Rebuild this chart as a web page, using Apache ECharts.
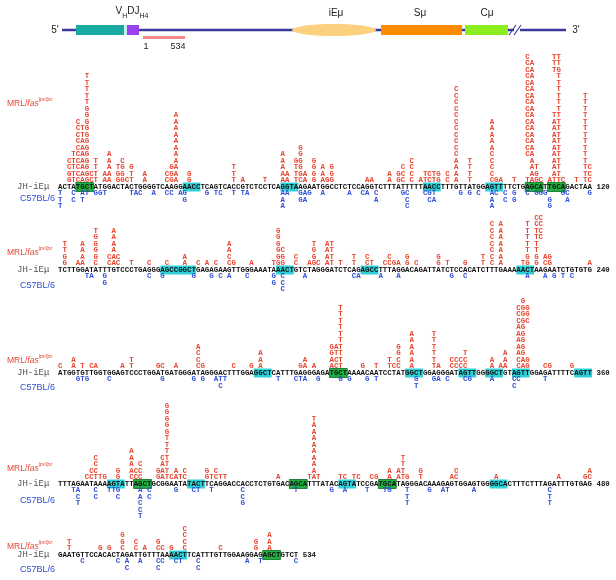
<!DOCTYPE html>
<html><head><meta charset="utf-8">
<script src="https://cdn.jsdelivr.net/npm/echarts/dist/echarts.min.js"></script>
<style>html,body{margin:0;padding:0;background:#fff}#c{width:616px;height:580px}</style>
</head><body><div id="c"></div>
<script>
// ---------- DATA ----------
const seq1 = "ACTATGCTATGGACTACTGGGGTCAAGGAACCTCAGTCACCGTCTCCTCAGGTAAGAATGGCCTCTCCAGGTCTTTATTTTTAACCTTTGTTATGGAGTTTTCTGAGCATTGCAGACTAA";
const seq2 = "TCTTGGATATTTGTCCCTGAGGGAGCCGGCTGAGAGAAGTTGGGAAATAAACTGTCTAGGGATCTCAGAGCCTTTAGGACAGATTATCTCCACATCTTTGAAAAACTAAGAATCTGTGTG";
const seq3 = "ATGGTGTTGGTGGAGTCCCTGGATGATGGGATAGGGACTTTGGAGGCTCATTTGAGGGAGATGCTAAAACAATCCTATGGCTGGAGGGATAGTTGGGGCTGTAGTTGGAGATTTTCAGTT";
const seq4 = "TTTAGAATAAAAGTATTAGCTGCGGAATATACTTCAGGACCACCTCTGTGACAGCATTTATACAGTATCCGATGCATAGGGACAAAGAGTGGAGTGGGGCACTTTCTTTAGATTTGTGAG";
const seq5 = "GAATGTTCCACACTAGATTGTTTAAAACTTCATTTGTTGGAAGGAGAGCTGTCT";
const endLabels = ["120", "240", "360", "480", "534"];

// MRL/lpr mutations: [level above sequence, start position (0-based), letters]
const mrl1 = [
 [1,2,"GTCAGCT"],[1,10,"AA"],[1,13,"GGCT"],[1,19,"A"],[1,24,"CGA"],[1,29,"G"],[1,39,"T"],[1,41,"A"],[1,46,"T"],[1,50,"AA"],[1,53,"TCA"],[1,57,"G"],[1,59,"AGG"],[1,69,"AA"],[1,74,"A"],[1,76,"GC"],[1,79,"C"],[1,81,"ATCTG"],[1,87,"C"],[1,89,"A"],[1,92,"T"],[1,97,"CGA"],[1,102,"T"],[1,105,"TAGC"],[1,110,"ATTC"],[1,116,"T"],[1,118,"TC"],
 [2,2,"GTCAGCT"],[2,10,"AA"],[2,13,"GG"],[2,16,"T"],[2,19,"A"],[2,24,"CGA"],[2,29,"G"],[2,39,"T"],[2,50,"AA"],[2,53,"TGA"],[2,57,"G"],[2,59,"A"],[2,61,"G"],[2,74,"A"],[2,76,"GC"],[2,79,"C"],[2,82,"TCTG"],[2,87,"C"],[2,89,"A"],[2,92,"T"],[2,97,"C"],[2,106,"AG"],[2,111,"AT"],[2,118,"TC"],
 [3,2,"CTCAG"],[3,8,"T"],[3,11,"A"],[3,13,"TG"],[3,16,"G"],[3,25,"GA"],[3,39,"T"],[3,50,"A"],[3,53,"TG"],[3,57,"G"],[3,59,"A"],[3,61,"G"],[3,77,"C"],[3,79,"C"],[3,89,"A"],[3,92,"T"],[3,97,"C"],[3,106,"AT"],[3,111,"AT"],[3,118,"TC"],
 [4,2,"CTCAG"],[4,8,"T"],[4,11,"A"],[4,14,"C"],[4,26,"A"],[4,50,"A"],[4,53,"GG"],[4,57,"G"],[4,79,"C"],[4,89,"A"],[4,92,"T"],[4,97,"C"],[4,106,"A"],[4,111,"AT"],[4,118,"T"],
 [5,3,"TCAG"],[5,11,"A"],[5,26,"A"],[5,50,"A"],[5,54,"G"],[5,89,"C"],[5,97,"C"],[5,105,"CA"],[5,111,"AT"],[5,118,"T"],
 [6,4,"CAG"],[6,26,"A"],[6,54,"G"],[6,89,"C"],[6,97,"A"],[6,105,"CA"],[6,111,"AT"],[6,118,"T"],
 [7,4,"CAG"],[7,26,"A"],[7,89,"C"],[7,97,"A"],[7,105,"CA"],[7,111,"AT"],[7,118,"T"],
 [8,4,"CTG"],[8,26,"A"],[8,89,"C"],[8,97,"A"],[8,105,"CA"],[8,111,"AT"],[8,118,"T"],
 [9,4,"CTG"],[9,26,"A"],[9,89,"C"],[9,97,"A"],[9,105,"CA"],[9,111,"AT"],[9,118,"T"],
 [10,4,"C G"],[10,26,"A"],[10,89,"C"],[10,97,"A"],[10,105,"CA"],[10,111,"AT"],[10,118,"T"],
 [11,6,"G"],[11,26,"A"],[11,89,"C"],[11,105,"CA"],[11,111,"TT"],[11,118,"T"],
 [12,6,"G"],[12,89,"C"],[12,105,"CA"],[12,112,"T"],[12,118,"T"],
 [13,6,"T"],[13,89,"C"],[13,105,"CA"],[13,112,"T"],[13,118,"T"],
 [14,6,"T"],[14,89,"C"],[14,105,"CA"],[14,112,"T"],[14,118,"T"],
 [15,6,"T"],[15,89,"C"],[15,105,"CA"],[15,112,"T"],
 [16,6,"T"],[16,105,"CA"],[16,112,"T"],
 [17,6,"T"],[17,105,"CA"],[17,112,"T"],
 [18,105,"CA"],[18,111,"TG"],
 [19,105,"CA"],[19,111,"TT"],
 [20,105,"C"],[20,111,"TT"]
];
const mrl2 = [
 [1,1,"G"],[1,4,"AA"],[1,8,"C"],[1,11,"CAC"],[1,16,"T"],[1,20,"C"],[1,24,"C"],[1,28,"A"],[1,31,"C"],[1,33,"A"],[1,35,"C"],[1,38,"CG"],[1,43,"A"],[1,48,"TGG"],[1,53,"C"],[1,56,"AGC"],[1,60,"AT"],[1,63,"T"],[1,66,"T"],[1,69,"CT"],[1,73,"CCGA"],[1,78,"G"],[1,80,"C"],[1,85,"G"],[1,87,"T"],[1,91,"G"],[1,95,"T"],[1,97,"C"],[1,99,"A"],[1,104,"TG"],[1,107,"G"],[1,109,"CG"],[1,119,"A"],
 [2,1,"G"],[2,5,"A"],[2,8,"G"],[2,11,"CAC"],[2,28,"A"],[2,38,"C"],[2,49,"GG"],[2,53,"C"],[2,57,"G"],[2,60,"AT"],[2,66,"T"],[2,69,"C"],[2,74,"C"],[2,78,"G"],[2,85,"G"],[2,95,"T"],[2,97,"C"],[2,99,"A"],[2,105,"G"],[2,107,"G"],[2,109,"AG"],
 [3,1,"T"],[3,5,"A"],[3,8,"G"],[3,12,"A"],[3,38,"A"],[3,49,"GC"],[3,57,"G"],[3,60,"AT"],[3,97,"C"],[3,99,"A"],[3,105,"T"],[3,107,"T"],
 [4,1,"T"],[4,5,"A"],[4,8,"G"],[4,12,"A"],[4,38,"A"],[4,49,"G"],[4,57,"T"],[4,60,"AT"],[4,97,"C"],[4,99,"A"],[4,105,"T"],[4,107,"T"],
 [5,8,"G"],[5,12,"A"],[5,49,"G"],[5,97,"C"],[5,99,"A"],[5,105,"T"],[5,107,"TC"],
 [6,8,"T"],[6,12,"A"],[6,49,"G"],[6,97,"C"],[6,99,"A"],[6,105,"T"],[6,107,"TC"],
 [7,97,"C"],[7,99,"A"],[7,105,"T"],[7,107,"CC"],
 [8,107,"CC"]
];
const mrl3 = [
 [1,0,"C"],[1,3,"A"],[1,5,"T"],[1,7,"CA"],[1,14,"A"],[1,16,"T"],[1,22,"GC"],[1,26,"A"],[1,31,"CG"],[1,39,"C"],[1,43,"G"],[1,45,"A"],[1,54,"GA"],[1,57,"A"],[1,61,"ACT"],[1,68,"G"],[1,71,"T"],[1,74,"TCC"],[1,79,"A"],[1,84,"TA"],[1,88,"CCCC"],[1,97,"A"],[1,99,"AA"],[1,103,"CAG"],[1,109,"CG"],[1,115,"G"],
 [2,3,"A"],[2,16,"T"],[2,31,"C"],[2,45,"A"],[2,55,"A"],[2,61,"ACT"],[2,74,"T"],[2,76,"C"],[2,79,"A"],[2,84,"T"],[2,88,"CCCC"],[2,97,"A"],[2,100,"A"],[2,103,"CAG"],
 [3,31,"C"],[3,45,"A"],[3,61,"GTT"],[3,76,"G"],[3,79,"A"],[3,84,"T"],[3,91,"T"],[3,100,"A"],[3,103,"AG"],
 [4,31,"A"],[4,61,"GAT"],[4,76,"G"],[4,79,"A"],[4,84,"T"],[4,103,"AG"],
 [5,63,"T"],[5,79,"A"],[5,84,"T"],[5,103,"AG"],
 [6,63,"T"],[6,79,"A"],[6,84,"T"],[6,103,"AG"],
 [7,63,"T"],[7,103,"AG"],
 [8,63,"T"],[8,103,"CGC"],
 [9,63,"T"],[9,103,"CGG"],
 [10,63,"T"],[10,103,"CGG"],
 [11,104,"G"]
];
const mrl4 = [
 [1,6,"CCTTG"],[1,13,"G"],[1,16,"CCC"],[1,22,"GATCAT"],[1,28,"C"],[1,33,"GTCTT"],[1,49,"A"],[1,56,"TAT"],[1,63,"TC"],[1,66,"TC"],[1,70,"CG"],[1,74,"A"],[1,76,"ATG"],[1,81,"T"],[1,88,"AC"],[1,98,"A"],[1,112,"A"],[1,118,"GC"],
 [2,7,"CC"],[2,13,"G"],[2,16,"ACC"],[2,22,"GAT"],[2,26,"A"],[2,28,"C"],[2,33,"G"],[2,35,"C"],[2,57,"A"],[2,74,"A"],[2,76,"AT"],[2,81,"G"],[2,89,"C"],[2,119,"A"],
 [3,8,"C"],[3,16,"A"],[3,18,"C"],[3,23,"AT"],[3,57,"A"],[3,77,"T"],
 [4,8,"C"],[4,16,"A"],[4,23,"CT"],[4,57,"A"],[4,77,"T"],
 [5,16,"A"],[5,24,"T"],[5,57,"A"],
 [6,24,"T"],[6,57,"A"],
 [7,24,"T"],[7,57,"A"],
 [8,24,"G"],[8,57,"A"],
 [9,24,"G"],[9,57,"A"],
 [10,24,"G"],[10,57,"T"],
 [11,24,"G"],
 [12,24,"G"]
];
const mrl5 = [
 [1,2,"T"],[1,9,"G"],[1,11,"G"],[1,14,"C"],[1,17,"C"],[1,19,"A"],[1,22,"CC"],[1,25,"G"],[1,28,"C"],[1,36,"C"],[1,44,"G"],[1,47,"A"],
 [2,2,"T"],[2,14,"G"],[2,17,"C"],[2,22,"G"],[2,28,"C"],[2,44,"G"],[2,47,"A"],
 [3,14,"G"],[3,28,"C"],[3,47,"A"],
 [4,28,"C"]
];

// C57BL/6 mutations: [level below sequence, start position, letters]
const b6_1 = [
 [1,0,"T"],[1,3,"C"],[1,5,"AT"],[1,8,"GGT"],[1,16,"TAC"],[1,21,"A"],[1,24,"CC"],[1,27,"AG"],[1,33,"G"],[1,35,"TC"],[1,39,"T"],[1,41,"TA"],[1,50,"AA"],[1,54,"GAG"],[1,59,"A"],[1,65,"A"],[1,68,"CA"],[1,71,"C"],[1,77,"GC"],[1,82,"CGT"],[1,90,"G"],[1,92,"G"],[1,94,"C"],[1,97,"AC"],[1,100,"C"],[1,102,"G"],[1,105,"C"],[1,107,"GGG"],[1,113,"GC"],[1,119,"G"],
 [2,0,"T"],[2,3,"C"],[2,5,"T"],[2,28,"G"],[2,50,"A"],[2,54,"GA"],[2,71,"A"],[2,78,"C"],[2,83,"CA"],[2,97,"A"],[2,100,"C"],[2,102,"G"],[2,110,"G"],[2,114,"A"],
 [3,0,"T"],[3,50,"A"],[3,78,"C"],[3,97,"A"],[3,110,"G"]
];
const b6_2 = [
 [1,6,"TA"],[1,10,"G"],[1,20,"C"],[1,23,"G"],[1,30,"G"],[1,34,"G"],[1,36,"C"],[1,38,"A"],[1,42,"C"],[1,48,"G"],[1,50,"C"],[1,55,"A"],[1,66,"CA"],[1,72,"A"],[1,76,"A"],[1,88,"G"],[1,91,"C"],[1,105,"A"],[1,109,"A"],[1,111,"G"],[1,113,"T"],[1,115,"C"],
 [2,10,"G"],[2,48,"G"],[2,50,"C"],
 [3,50,"C"]
];
const b6_3 = [
 [1,4,"GTG"],[1,11,"C"],[1,23,"G"],[1,30,"G"],[1,32,"G"],[1,35,"ATT"],[1,49,"T"],[1,53,"CTA"],[1,58,"G"],[1,63,"G"],[1,65,"G"],[1,69,"G"],[1,71,"T"],[1,80,"G"],[1,84,"GA"],[1,87,"C"],[1,91,"CG"],[1,97,"A"],[1,102,"CC"],[1,109,"T"],
 [2,36,"C"],[2,80,"T"],[2,102,"C"]
];
const b6_4 = [
 [1,3,"TA"],[1,8,"C"],[1,11,"TTG"],[1,18,"A"],[1,20,"C"],[1,26,"G"],[1,30,"CT"],[1,34,"T"],[1,41,"C"],[1,53,"T"],[1,61,"G"],[1,64,"A"],[1,69,"T"],[1,73,"TG"],[1,78,"T"],[1,83,"G"],[1,86,"AT"],[1,93,"A"],[1,110,"C"],
 [2,4,"C"],[2,8,"C"],[2,13,"C"],[2,18,"A"],[2,20,"C"],[2,41,"C"],[2,78,"T"],[2,110,"T"],
 [3,4,"T"],[3,18,"C"],[3,41,"G"],[3,78,"T"],[3,110,"T"],
 [4,18,"C"],
 [5,18,"T"]
];
const b6_5 = [
 [1,5,"C"],[1,13,"C"],[1,15,"A"],[1,18,"A"],[1,22,"CC"],[1,26,"CT"],[1,31,"C"],[1,42,"A"],[1,45,"T"],[1,53,"C"],
 [2,15,"C"],[2,22,"C"],[2,31,"C"]
];

// highlighted motifs: [start, end] (inclusive, 0-based)
const cyan1 = [[28,31],[50,53],[82,85],[96,99]];
const green1 = [[4,7],[105,108],[110,113]];
const cyan2 = [[23,30],[49,52],[68,71],[103,106]];
const green2 = [];
const cyan3 = [[44,47],[78,81],[90,93],[96,99],[102,105],[116,119]];
const green3 = [[61,64]];
const cyan4 = [[11,14],[29,32],[63,66],[97,100]];
const green4 = [[17,20],[52,55],[72,75]];
const cyan5 = [[25,28]];
const green5 = [[46,49]];

// ---------- LAYOUT ----------
const SEQS = [seq1, seq2, seq3, seq4, seq5];
const MRL = [mrl1, mrl2, mrl3, mrl4, mrl5];
const B6 = [b6_1, b6_2, b6_3, b6_4, b6_5];
const CYAN = [cyan1, cyan2, cyan3, cyan4, cyan5];
const GREEN = [green1, green2, green3, green4, green5];
const SEQ_Y = [187, 270, 373, 484, 555];
const STEP = 6.5;
const MRL_Y = [102, 251, 359, 467, 545];
const B6_Y = [199, 286, 388, 501, 570];
const RED = '#e8452f', BLUE = '#2f4fd6', BLACK = '#111';
const MONO = '"Liberation Mono", "DejaVu Sans Mono", monospace';
const SANS = '"Liberation Sans", Arial, sans-serif';

const items = [];
SEQS.forEach((s, b) => {
  for (let i = 0; i < s.length; i++) items.push({x: i + 0.5, y: SEQ_Y[b], t: s[i], k: 0});
  items.push({x: s.length + 1, y: SEQ_Y[b], t: endLabels[b], k: 3});
  MRL[b].forEach(([lv, c, str]) => { for (let j = 0; j < str.length; j++) if (str[j] !== ' ') items.push({x: c + j + 0.5, y: SEQ_Y[b] - lv * STEP, t: str[j], k: 1}); });
  B6[b].forEach(([lv, c, str]) => { for (let j = 0; j < str.length; j++) if (str[j] !== ' ') items.push({x: c + j + 0.5, y: SEQ_Y[b] + lv * STEP, t: str[j], k: 2}); });
});
const boxes = [];
CYAN.forEach((l, b) => l.forEach(([s, e]) => boxes.push({s, e: e + 1, y: SEQ_Y[b], g: 0})));
GREEN.forEach((l, b) => l.forEach(([s, e]) => boxes.push({s, e: e + 1, y: SEQ_Y[b], g: 1})));

const fills = [BLACK, RED, BLUE, BLACK];

// gene map (schematic) features
const mapLine = [62, 566];
const mapBoxes = [
  {x0: 76, x1: 124, c: '#18a9a0'},
  {x0: 124, x1: 127, c: '#c8f2f0'},
  {x0: 127, x1: 139, c: '#9b40f0'},
  {x0: 381, x1: 462, c: '#ff8c00'},
  {x0: 465, x1: 508, c: '#8cee1e'}
];

const chart = echarts.init(document.getElementById('c'));
const graphics = [];
const LY = 30;
graphics.push({type: 'line', shape: {x1: mapLine[0], y1: LY, x2: 514, y2: LY}, style: {stroke: '#3a3a9e', lineWidth: 2.5}});
graphics.push({type: 'line', shape: {x1: 520, y1: LY, x2: mapLine[1], y2: LY}, style: {stroke: '#3a3a9e', lineWidth: 2.5}});
mapBoxes.forEach(m => graphics.push({type: 'rect', shape: {x: m.x0, y: 25, width: m.x1 - m.x0, height: 10}, style: {fill: m.c}}));
graphics.push({type: 'ellipse', shape: {cx: 334, cy: LY, rx: 42, ry: 6}, style: {fill: '#fbd07e'}});
graphics.push({type: 'line', shape: {x1: 509, y1: 35, x2: 516, y2: 25}, style: {stroke: '#3a3a9e', lineWidth: 1.2}});
graphics.push({type: 'line', shape: {x1: 514, y1: 35, x2: 521, y2: 25}, style: {stroke: '#3a3a9e', lineWidth: 1.2}});
graphics.push({type: 'rect', shape: {x: 143, y: 36, width: 42, height: 3}, style: {fill: '#f28a8a'}});
function txt(x, y, text, font, fill, align) {
  graphics.push({type: 'text', x, y, style: {text, font, fill, align: align || 'center', verticalAlign: 'middle'}});
}
txt(55, LY, "5'", '10px ' + SANS, '#222');
txt(576, LY, "3'", '10px ' + SANS, '#222');
txt(336, 13, 'iEμ', '10px ' + SANS, '#222');
txt(420, 13, 'Sμ', '10px ' + SANS, '#222');
txt(487, 13, 'Cμ', '10px ' + SANS, '#222');
txt(146, 47, '1', '9px ' + SANS, '#222');
txt(178, 47, '534', '9px ' + SANS, '#222');
graphics.push({type: 'text', x: 132, y: 13, style: {
  text: '{a|V}{s|H}{a|DJ}{s|H4}', align: 'center', verticalAlign: 'middle',
  rich: {a: {font: '10px ' + SANS, fill: '#222', verticalAlign: 'top', lineHeight: 14}, s: {font: '7px ' + SANS, fill: '#222', verticalAlign: 'bottom', lineHeight: 14}}
}});
for (let b = 0; b < 5; b++) {
  graphics.push({type: 'text', x: 7, y: MRL_Y[b], style: {
    text: '{a|MRL/}{b|fas}{c|lpr/lpr}', align: 'left', verticalAlign: 'middle',
    rich: {a: {font: '8.5px ' + SANS, fill: RED, verticalAlign: 'bottom', lineHeight: 12},
           b: {font: 'italic 8.5px ' + SANS, fill: RED, verticalAlign: 'bottom', lineHeight: 12},
           c: {font: 'italic 5.5px ' + SANS, fill: RED, verticalAlign: 'top', lineHeight: 12}}
  }});
  txt(17, SEQ_Y[b], 'JH-iEμ', '9px ' + MONO, '#555', 'left');
  txt(20, B6_Y[b], 'C57BL/6', '9px ' + SANS, BLUE, 'left');
}

chart.setOption({
  animation: false,
  grid: {left: 58, right: 24, top: 0, bottom: 0},
  xAxis: {type: 'value', min: 0, max: 120, show: false},
  yAxis: {type: 'value', min: 0, max: 580, inverse: true, show: false},
  graphic: graphics,
  series: [
    {
      type: 'custom', coordinateSystem: 'cartesian2d', clip: false, z: 1,
      data: boxes.map(d => [d.s, d.e, d.y, d.g]),
      renderItem: function (params, api) {
        const p0 = api.coord([api.value(0), api.value(2)]);
        const p1 = api.coord([api.value(1), api.value(2)]);
        const g = api.value(3);
        return {type: 'rect', shape: {x: p0[0], y: p0[1] - 4.5, width: p1[0] - p0[0], height: 9},
          style: g ? {fill: '#20b040', stroke: '#0b6a22', lineWidth: 0.8} : {fill: '#2ed1d8'}};
      }
    },
    {
      type: 'custom', coordinateSystem: 'cartesian2d', clip: false, z: 2,
      data: items.map(d => [d.x, d.y]),
      renderItem: function (params, api) {
        const it = items[params.dataIndex];
        const p = api.coord([api.value(0), api.value(1)]);
        return {type: 'text', x: p[0], y: p[1], style: {
          text: it.t, fill: fills[it.k], font: 'bold 7.4px ' + MONO,
          align: it.k === 3 ? 'left' : 'center', verticalAlign: 'middle'}};
      }
    }
  ]
});
</script>
</body></html>
